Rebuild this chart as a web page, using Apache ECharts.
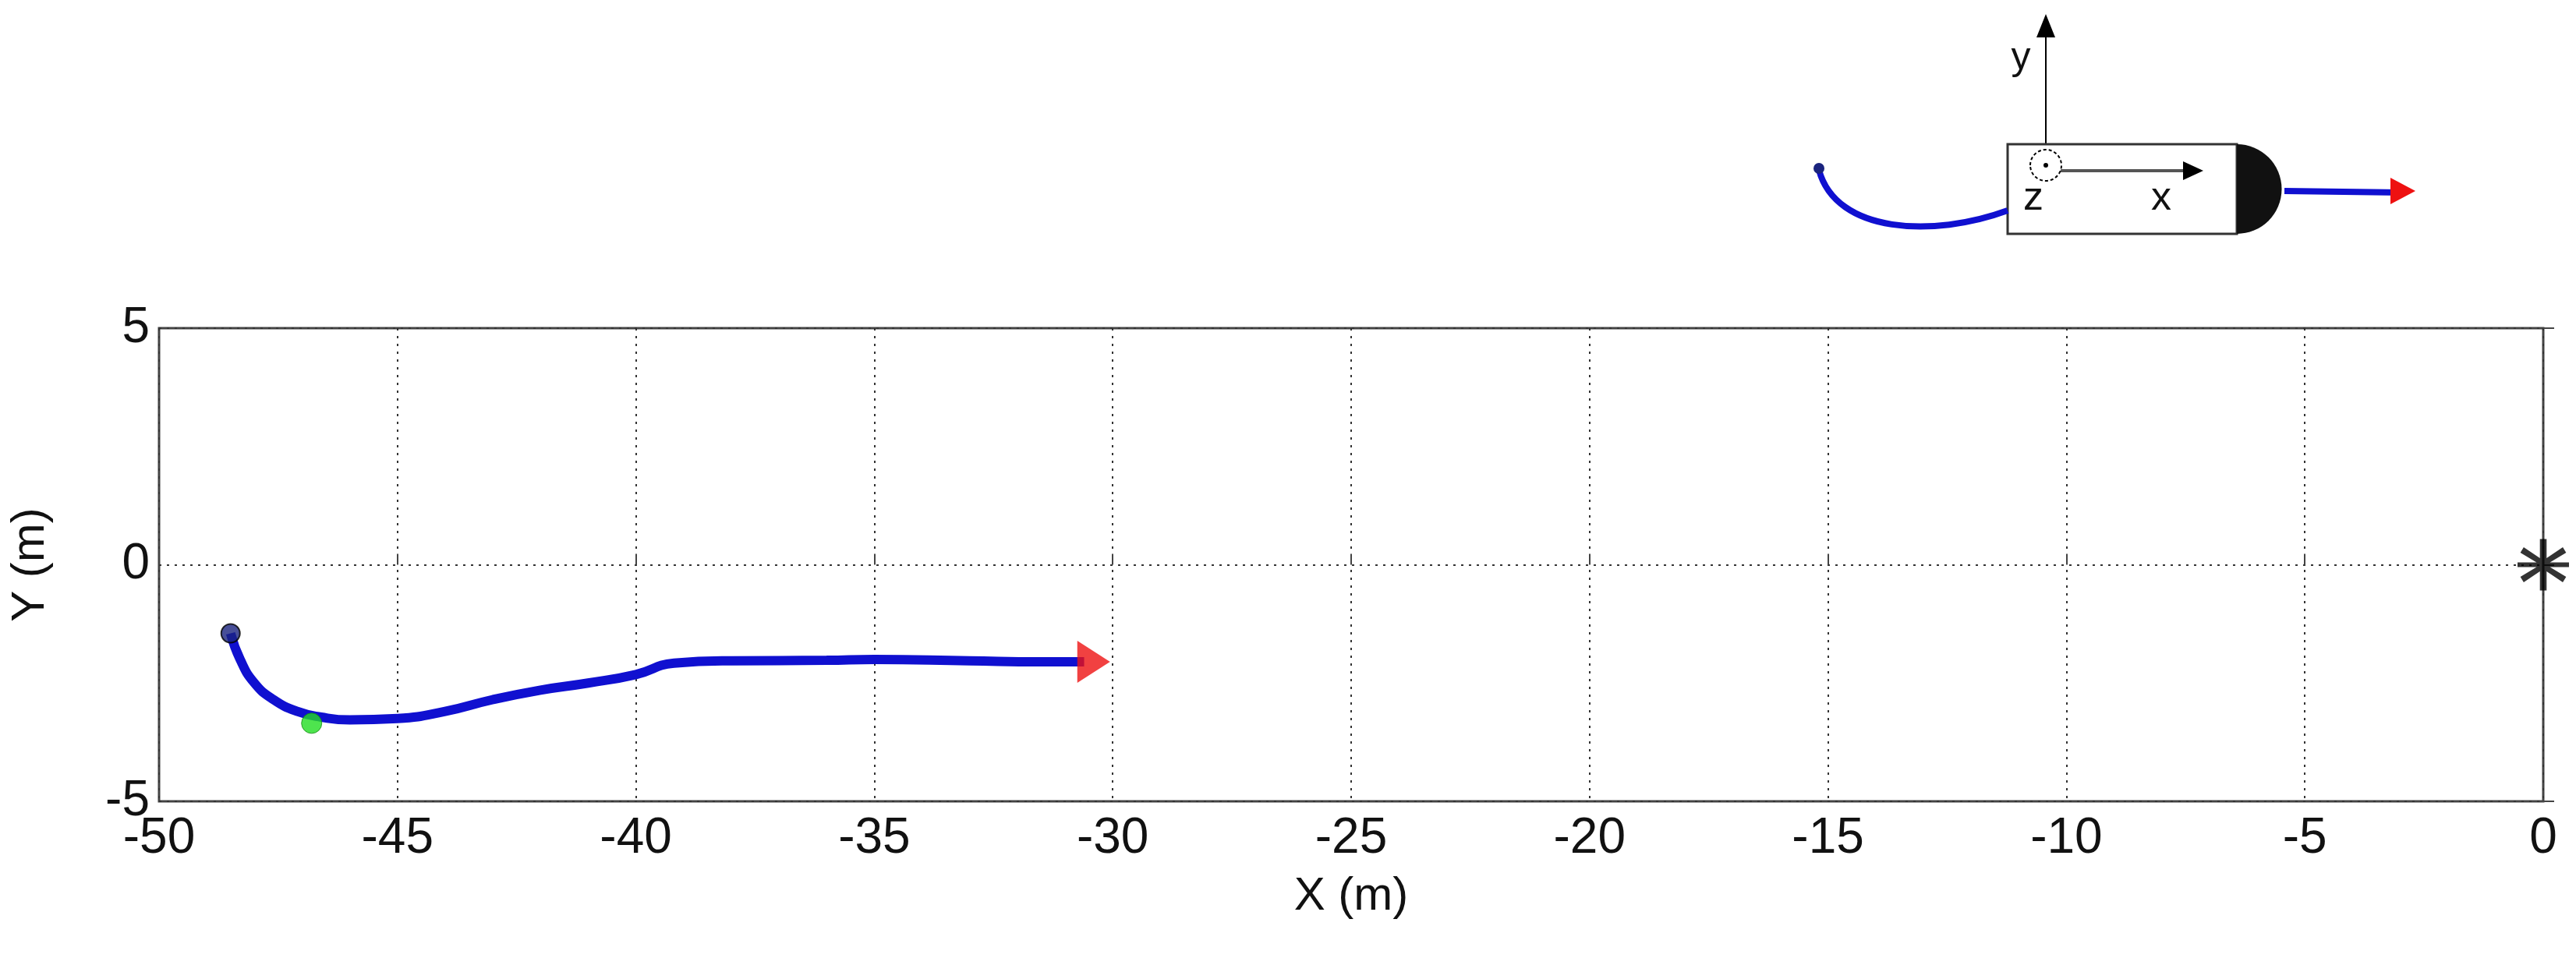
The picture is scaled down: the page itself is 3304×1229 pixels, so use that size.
<!DOCTYPE html>
<html>
<head>
<meta charset="utf-8">
<script src="https://cdn.jsdelivr.net/npm/echarts@6/dist/echarts.min.js"></script>
<style>html,body{margin:0;padding:0;background:#fff}#main{width:3304px;height:1229px}</style>
</head>
<body>
<div id="main"></div>
<script>
// 轨迹数据 (X, Y)
let trackX = [-48.5, -48.3, -48.0, -47.6, -47.1, -46.6, -46.0, -45.0, -44.0, -43.0, -42.0, -41.0, -40.0, -39.2, -38.0, -36.0, -35.0, -33.0, -31.5, -30.6];
let trackY = [-1.45, -2.0, -2.5, -2.85, -3.1, -3.22, -3.28, -3.25, -3.1, -2.85, -2.65, -2.5, -2.32, -2.08, -2.03, -2.02, -2.0, -2.03, -2.05, -2.05];
let startPt = [-48.5, -1.45];
let greenPt = [-46.8, -3.35];
let arrowPt = [-30.4, -2.05];
let targetPt = [0, 0];
let xTicks = [-50, 0, 5];
let yTicks = [-5, 5, 5];

let track = trackX.map(function (x, i) { return [x, trackY[i]]; });

let myChart = echarts.init(document.getElementById('main'));
let font = 'Liberation Sans';

let option = {
    animation: false,
    grid: {left: 204, right: 42, top: 421, height: 607, show: true, borderColor: '#444', borderWidth: 3},
    xAxis: {
        type: 'value', min: xTicks[0], max: xTicks[1], interval: xTicks[2],
        name: 'X (m)', nameLocation: 'middle', nameGap: 92,
        nameTextStyle: {fontFamily: font, fontSize: 60, color: '#111'},
        axisLine: {show: false},
        axisTick: {inside: true, length: 14, lineStyle: {color: '#444', width: 2}},
        axisLabel: {fontFamily: font, fontSize: 64, color: '#111', margin: 16},
        splitLine: {show: true, lineStyle: {color: '#333', type: [3, 7], width: 2}}
    },
    yAxis: {
        type: 'value', min: yTicks[0], max: yTicks[1], interval: yTicks[2],
        name: 'Y (m)', nameLocation: 'middle', nameGap: 135,
        nameTextStyle: {fontFamily: font, fontSize: 60, color: '#111'},
        axisLine: {show: false},
        axisTick: {inside: true, length: 14, lineStyle: {color: '#444', width: 2}},
        axisLabel: {fontFamily: font, fontSize: 64, color: '#111', margin: 12},
        splitLine: {show: true, lineStyle: {color: '#333', type: [3, 7], width: 2}}
    },
    series: [
        {type: 'line', data: track, smooth: true, showSymbol: false, lineStyle: {color: '#1010d0', width: 12}, z: 3},
        {type: 'scatter', data: [arrowPt], symbol: 'triangle', symbolRotate: -90, symbolSize: [54, 42], itemStyle: {color: '#ee1111'}, z: 4},
        {type: 'scatter', data: [startPt], symbolSize: 24, itemStyle: {color: '#1a237e', borderColor: '#000', borderWidth: 2}, z: 5},
        {type: 'scatter', data: [greenPt], symbolSize: 26, itemStyle: {color: '#22dd22', borderColor: '#118811', borderWidth: 1}, z: 5},
        {type: 'scatter', data: [targetPt], symbol: 'path://M-1.3,-10L1.3,-10L1.3,-2.6L7.6,-6.8L8.9,-4.7L2.6,-0.9L10,-0.9L10,0.9L2.6,0.9L8.9,4.7L7.6,6.8L1.3,2.6L1.3,10L-1.3,10L-1.3,2.6L-7.6,6.8L-8.9,4.7L-2.6,0.9L-10,0.9L-10,-0.9L-2.6,-0.9L-8.9,-4.7L-7.6,-6.8L-1.3,-2.6Z', symbolSize: 66, itemStyle: {color: '#000'}, z: 6}
    ],
    graphic: [
        // 示意图: 机体坐标系
        {type: 'line', shape: {x1: 2624, y1: 40, x2: 2624, y2: 215}, style: {stroke: '#000', lineWidth: 2}},
        {type: 'polygon', shape: {points: [[2624, 18], [2612, 48], [2636, 48]]}, style: {fill: '#000'}},
        {type: 'text', style: {text: 'y', x: 2592, y: 75, fontFamily: font, fontSize: 50, fill: '#111', align: 'center', verticalAlign: 'middle'}},
        {type: 'rect', shape: {x: 2575, y: 185, width: 294, height: 115}, style: {fill: '#fff', stroke: '#333', lineWidth: 3}},
        {type: 'sector', shape: {cx: 2869, cy: 242.5, r0: 0, r: 57.5, startAngle: -Math.PI / 2, endAngle: Math.PI / 2}, style: {fill: '#111'}},
        {type: 'line', shape: {x1: 2624, y1: 219, x2: 2800, y2: 219}, style: {stroke: '#555', lineWidth: 4}},
        {type: 'polygon', shape: {points: [[2826, 219], [2800, 207], [2800, 231]]}, style: {fill: '#000'}},
        {type: 'ellipse', shape: {cx: 2624, cy: 212, rx: 20, ry: 20}, style: {fill: '#fff', stroke: '#000', lineWidth: 2, lineDash: [4, 3]}},
        {type: 'circle', shape: {cx: 2624, cy: 212, r: 3}, style: {fill: '#000'}},
        {type: 'text', style: {text: 'z', x: 2608, y: 255, fontFamily: font, fontSize: 52, fill: '#111', align: 'center', verticalAlign: 'middle'}},
        {type: 'text', style: {text: 'x', x: 2772, y: 255, fontFamily: font, fontSize: 52, fill: '#111', align: 'center', verticalAlign: 'middle'}},
        {type: 'line', shape: {x1: 2930, y1: 245, x2: 3080, y2: 247}, style: {stroke: '#1010d0', lineWidth: 8}},
        {type: 'polygon', shape: {points: [[3098, 245], [3066, 228], [3066, 262]]}, style: {fill: '#ee1111'}},
        {type: 'bezierCurve', shape: {x1: 2333, y1: 218, cpx1: 2355, cpy1: 300, cpx2: 2480, cpy2: 305, x2: 2575, y2: 270}, style: {stroke: '#1010d0', lineWidth: 8, fill: null}},
        {type: 'circle', shape: {cx: 2333, cy: 216, r: 7}, style: {fill: '#1a237e'}}
    ]
};

myChart.setOption(option);
</script>
</body>
</html>
